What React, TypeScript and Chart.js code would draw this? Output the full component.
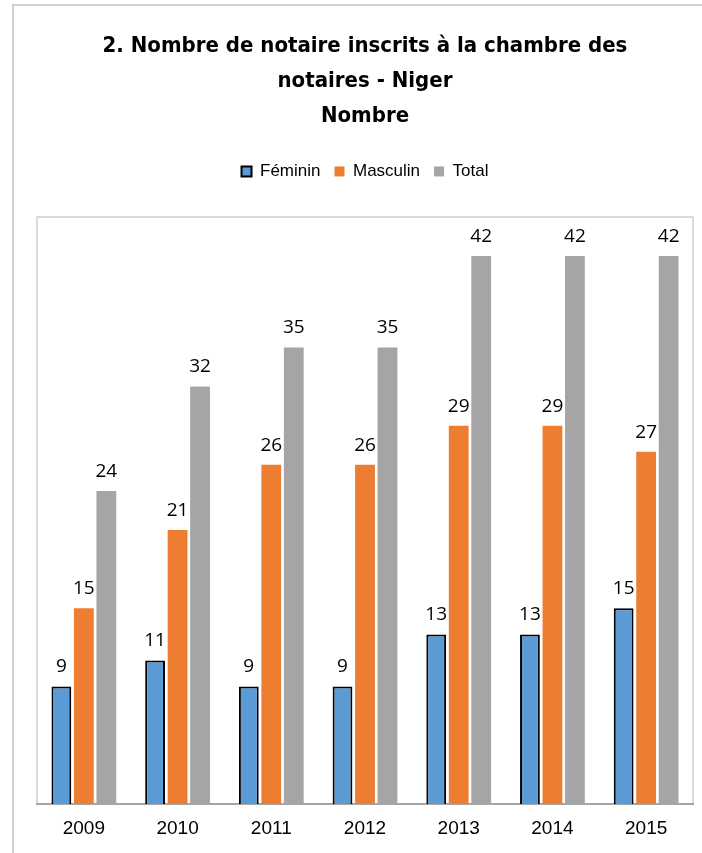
import React, { useEffect, useRef } from "react";
import { Chart, registerables } from "chart.js";

Chart.register(...registerables);

const categories = ["2009", "2010", "2011", "2012", "2013", "2014", "2015"];
const feminin = [9, 11, 9, 9, 13, 13, 15];
const masculin = [15, 21, 26, 26, 29, 29, 27];
const total = [24, 32, 35, 35, 42, 42, 42];
const titleLines = ["2. Nombre de notaire inscrits à la chambre des", "notaires - Niger", "Nombre"];

const framePlugin = {
  id: "frame",
  beforeInit(chart: any) {
    const fit = chart.legend.fit;
    chart.legend.fit = function () {
      fit.bind(chart.legend)();
      this.height += 27;
    };
  },
  beforeDraw(chart: any) {
    const ctx = chart.ctx;
    const a = chart.chartArea;
    ctx.save();
    ctx.fillStyle = "#ffffff";
    ctx.fillRect(0, 0, chart.width, chart.height);
    ctx.strokeStyle = "#d0d0d0";
    ctx.lineWidth = 2;
    ctx.strokeRect(13, 5, 700, 870);
    ctx.lineWidth = 1.5;
    ctx.beginPath();
    ctx.moveTo(a.left, a.bottom);
    ctx.lineTo(a.left, a.top);
    ctx.lineTo(a.right, a.top);
    ctx.lineTo(a.right, a.bottom);
    ctx.stroke();
    ctx.restore();
  },
  afterDatasetsDraw(chart: any) {
    const ctx = chart.ctx;
    ctx.save();
    ctx.fillStyle = "#000000";
    ctx.font = "19px 'Open Sans'";
    ctx.textAlign = "center";
    ctx.textBaseline = "bottom";
    chart.data.datasets.forEach((ds: any, i: number) => {
      const meta = chart.getDatasetMeta(i);
      meta.data.forEach((bar: any, j: number) => {
        ctx.fillText(String(ds.data[j]), bar.x, bar.y - 10);
      });
    });
    ctx.restore();
  },
};

export default function App() {
  const ref = useRef<HTMLCanvasElement>(null);
  useEffect(() => {
    if (!ref.current) return;
    const chart = new Chart(ref.current, {
      type: "bar",
      data: {
        labels: categories,
        datasets: [
          { label: "Féminin", data: feminin, backgroundColor: "#5b9bd5", borderColor: "#000000", borderWidth: 2 },
          { label: "Masculin", data: masculin, backgroundColor: "#ed7d31", borderWidth: 0 },
          { label: "Total", data: total, backgroundColor: "#a5a5a5", borderWidth: 0 },
        ],
      },
      options: {
        animation: false,
        responsive: false,
        maintainAspectRatio: false,
        layout: { padding: { top: 29, left: 37, right: 9, bottom: 0 } },
        datasets: { bar: { categoryPercentage: 0.72, barPercentage: 0.88 } },
        plugins: {
          title: {
            display: true,
            text: titleLines,
            color: "#000000",
            font: { family: "'DejaVu Sans Condensed', sans-serif", size: 22, weight: "bold", lineHeight: 1.59 },
            padding: { top: 0, bottom: 15 },
          },
          legend: {
            display: true,
            position: "top",
            labels: {
              color: "#000000",
              font: { family: "'Liberation Sans', sans-serif", size: 17 },
              boxWidth: 10,
              boxHeight: 10,
              padding: 14,
            },
          },
          tooltip: { enabled: false },
        },
        scales: {
          x: {
            grid: { display: false, drawTicks: false },
            border: { display: true, color: "#a6a6a6", width: 2 },
            ticks: { color: "#000000", font: { family: "'Liberation Sans', Arial, sans-serif", size: 19, lineHeight: 1 }, padding: 15 },
          },
          y: {
            display: false,
            min: 0,
            max: 45,
          },
        },
      },
      plugins: [framePlugin],
    });
    return () => chart.destroy();
  }, []);
  return (
    <div style={{ position: "absolute", left: 0, top: 0, width: 702, height: 853 }}>
      <canvas ref={ref} width={702} height={853} style={{ display: "block" }} />
    </div>
  );
}
